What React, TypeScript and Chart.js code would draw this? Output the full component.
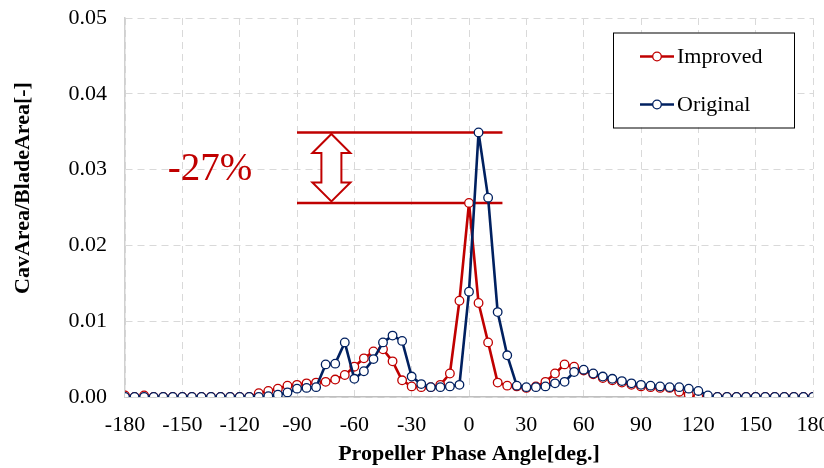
import React, { useEffect, useRef } from "react";
import { Chart, registerables } from "chart.js";

Chart.register(...registerables);

// Propeller phase angle [deg.]
const ANGLES = [
  -180, -175, -170, -165, -160, -155, -150, -145, -140, -135, -130, -125, -120, -115, -110, -105, -100, -95, -90, -85,
  -80, -75, -70, -65, -60, -55, -50, -45, -40, -35, -30, -25, -20, -15, -10, -5, 0, 5, 10, 15,
  20, 25, 30, 35, 40, 45, 50, 55, 60, 65, 70, 75, 80, 85, 90, 95, 100, 105, 110, 115,
  120, 125, 130, 135, 140, 145, 150, 155, 160, 165, 170, 175, 180,
];

const IMPROVED = [
  0.0002, 0, 0.0002, 0, 0, 0, 0, 0, 0, 0, 0, 0, 0, 0, 0.0005, 0.0008, 0.0011, 0.0015, 0.0016, 0.0018,
  0.0019, 0.002, 0.0023, 0.0029, 0.004, 0.0051, 0.006, 0.0063, 0.0047, 0.0022, 0.0014, 0.0013, 0.0013, 0.0016, 0.0031, 0.0127, 0.0256, 0.0124, 0.0072, 0.0019,
  0.0015, 0.0014, 0.0012, 0.0014, 0.002, 0.0031, 0.0043, 0.004, 0.0035, 0.003, 0.0025, 0.0022, 0.0019, 0.0016, 0.0014, 0.0013, 0.0012, 0.0012, 0.0007, 0.0003,
  0, 0, 0, 0, 0, 0, 0, 0, 0, 0, 0, 0, 0,
];

const ORIGINAL = [
  0, 0, 0, 0, 0, 0, 0, 0, 0, 0, 0, 0, 0, 0, 0, 0.0001, 0.0003, 0.0006, 0.0011, 0.0012,
  0.0013, 0.0043, 0.0044, 0.0072, 0.0024, 0.0034, 0.005, 0.0072, 0.0081, 0.0074, 0.0027, 0.0017, 0.0013, 0.0013, 0.0014, 0.0016, 0.0139, 0.0349, 0.0263, 0.0112,
  0.0055, 0.0015, 0.0013, 0.0013, 0.0014, 0.0018, 0.002, 0.0033, 0.0036, 0.0031, 0.0027, 0.0024, 0.0021, 0.0018, 0.0016, 0.0015, 0.0014, 0.0013, 0.0013, 0.0011,
  0.0008, 0.0002, 0, 0, 0, 0, 0, 0, 0, 0, 0, 0, 0,
];

const X_MIN = -180;
const X_MAX = 180;
const X_STEP = 30;
const Y_MIN = 0;
const Y_MAX = 0.05;
const Y_STEP = 0.01;

const SERIES_LABELS = ["Improved", "Original"];
const X_TITLE = "Propeller Phase Angle[deg.]";
const Y_TITLE = "CavArea/BladeArea[-]";
const REDUCTION_LABEL = "-27%";

const RED = "#C00000";
const NAVY = "#002060";
const FONT = "'Liberation Serif', 'Times New Roman', serif";

const annotationPlugin = {
  id: "reductionAnnotation",
  beforeDatasetsDraw(chart: any) {
    const { ctx, scales } = chart;
    const x = scales.x;
    const y = scales.y;
    const yTop = y.getPixelForValue(Math.max(...ORIGINAL));
    const yBot = y.getPixelForValue(Math.max(...IMPROVED));
    const xL = x.getPixelForValue(-90);
    const xR = x.getPixelForValue(17.5);
    ctx.save();
    ctx.strokeStyle = RED;
    ctx.lineWidth = 2.5;
    ctx.beginPath();
    ctx.moveTo(xL, yTop);
    ctx.lineTo(xR, yTop);
    ctx.moveTo(xL, yBot);
    ctx.lineTo(xR, yBot);
    ctx.stroke();

    // double-headed arrow
    const cx = x.getPixelForValue(-72);
    const t = yTop + 1.5;
    const b = yBot - 1.5;
    const headH = 19;
    const headW = 19;
    const shaftW = 10;
    ctx.beginPath();
    ctx.moveTo(cx, t);
    ctx.lineTo(cx + headW, t + headH);
    ctx.lineTo(cx + shaftW, t + headH);
    ctx.lineTo(cx + shaftW, b - headH);
    ctx.lineTo(cx + headW, b - headH);
    ctx.lineTo(cx, b);
    ctx.lineTo(cx - headW, b - headH);
    ctx.lineTo(cx - shaftW, b - headH);
    ctx.lineTo(cx - shaftW, t + headH);
    ctx.lineTo(cx - headW, t + headH);
    ctx.closePath();
    ctx.fillStyle = "#ffffff";
    ctx.fill();
    ctx.lineWidth = 2;
    ctx.lineJoin = "miter";
    ctx.stroke();

    // label
    ctx.fillStyle = RED;
    ctx.font = `39px ${FONT}`;
    ctx.textAlign = "center";
    ctx.textBaseline = "alphabetic";
    ctx.fillText(REDUCTION_LABEL, x.getPixelForValue(-135.5), y.getPixelForValue(0.0286));
    ctx.restore();
  },
  afterDraw(chart: any) {
    const { ctx, chartArea } = chart;
    // y-axis title
    ctx.save();
    ctx.translate(23, 188);
    ctx.rotate(-Math.PI / 2);
    ctx.fillStyle = "#000000";
    ctx.font = `bold 22px ${FONT}`;
    ctx.textAlign = "center";
    ctx.textBaseline = "middle";
    ctx.fillText(Y_TITLE, 0, 0);
    ctx.restore();

    // legend
    const left = chartArea.right - 200;
    const top = chartArea.top + 14.5;
    const w = 181;
    const h = 95;
    ctx.save();
    ctx.fillStyle = "#ffffff";
    ctx.fillRect(left, top, w, h);
    ctx.strokeStyle = "#000000";
    ctx.lineWidth = 1;
    ctx.strokeRect(left + 0.5, top + 0.5, w, h);
    const entries = [
      { label: SERIES_LABELS[0], color: RED, y: top + 24 },
      { label: SERIES_LABELS[1], color: NAVY, y: top + 72 },
    ];
    entries.forEach((e) => {
      ctx.strokeStyle = e.color;
      ctx.lineWidth = 2.5;
      ctx.beginPath();
      ctx.moveTo(left + 27, e.y);
      ctx.lineTo(left + 61, e.y);
      ctx.stroke();
      ctx.beginPath();
      ctx.arc(left + 44, e.y, 4.3, 0, Math.PI * 2);
      ctx.fillStyle = "#ffffff";
      ctx.fill();
      ctx.lineWidth = 1.3;
      ctx.stroke();
      ctx.fillStyle = "#000000";
      ctx.font = `22px ${FONT}`;
      ctx.textAlign = "left";
      ctx.textBaseline = "middle";
      ctx.fillText(e.label, left + 64, e.y + 1);
    });
    ctx.restore();
  },
};

export default function App() {
  const canvasRef = useRef<HTMLCanvasElement | null>(null);

  useEffect(() => {
    const canvas = canvasRef.current;
    if (!canvas) return;
    const improvedPts = ANGLES.map((a, i) => ({ x: a, y: IMPROVED[i] }));
    const originalPts = ANGLES.map((a, i) => ({ x: a, y: ORIGINAL[i] }));
    const pointStyle = {
      pointRadius: 4.3,
      pointHoverRadius: 4.3,
      pointBorderWidth: 1.3,
      pointBackgroundColor: "#ffffff",
      borderWidth: 2.6,
      borderJoinStyle: "round" as const,
      tension: 0,
      fill: false,
    };
    const chart = new Chart(canvas, {
      type: "line",
      data: {
        datasets: [
          {
            label: SERIES_LABELS[1],
            data: originalPts,
            borderColor: NAVY,
            pointBorderColor: NAVY,
            ...pointStyle,
          },
          {
            label: SERIES_LABELS[0],
            data: improvedPts,
            borderColor: RED,
            pointBorderColor: RED,
            ...pointStyle,
          },
        ],
      },
      options: {
        responsive: false,
        animation: false,
        layout: { padding: { top: 18, right: 11, left: 0, bottom: 0 } },
        plugins: {
          legend: { display: false },
          tooltip: { enabled: false },
        },
        scales: {
          x: {
            type: "linear",
            min: X_MIN,
            max: X_MAX,
            ticks: {
              stepSize: X_STEP,
              color: "#000000",
              padding: 15,
              font: { family: FONT, size: 22 },
              maxRotation: 0,
              autoSkip: false,
            },
            grid: { color: "#d9d9d9", drawTicks: false, lineWidth: 1 },
            border: { display: true, color: "#bfbfbf", width: 1.5, dash: [7, 5] },
            title: {
              display: true,
              text: X_TITLE,
              color: "#000000",
              font: { family: FONT, size: 22, weight: "bold" },
              padding: { top: 0, bottom: 0 },
            },
            afterFit: (scale: any) => {
              scale.height = 71;
              scale.paddingLeft = 0;
              scale.paddingRight = 0;
            },
          },
          y: {
            type: "linear",
            min: Y_MIN,
            max: Y_MAX,
            ticks: {
              stepSize: Y_STEP,
              color: "#000000",
              padding: 18,
              font: { family: FONT, size: 22 },
              callback: (v: any) => Number(v).toFixed(2),
            },
            grid: { color: "#d9d9d9", drawTicks: false, lineWidth: 1 },
            border: { display: true, color: "#d0d0d0", width: 1.5, dash: [7, 5] },
            title: { display: false, text: Y_TITLE },
            afterFit: (scale: any) => {
              scale.width = 125;
              scale.paddingTop = 0;
              scale.paddingBottom = 0;
            },
          },
        },
      },
      plugins: [annotationPlugin],
    });
    return () => chart.destroy();
  }, []);

  return (
    <div style={{ position: "fixed", left: 0, top: 0, width: 824, height: 468, background: "#ffffff" }}>
      <canvas ref={canvasRef} width={824} height={468} style={{ display: "block" }} />
    </div>
  );
}
